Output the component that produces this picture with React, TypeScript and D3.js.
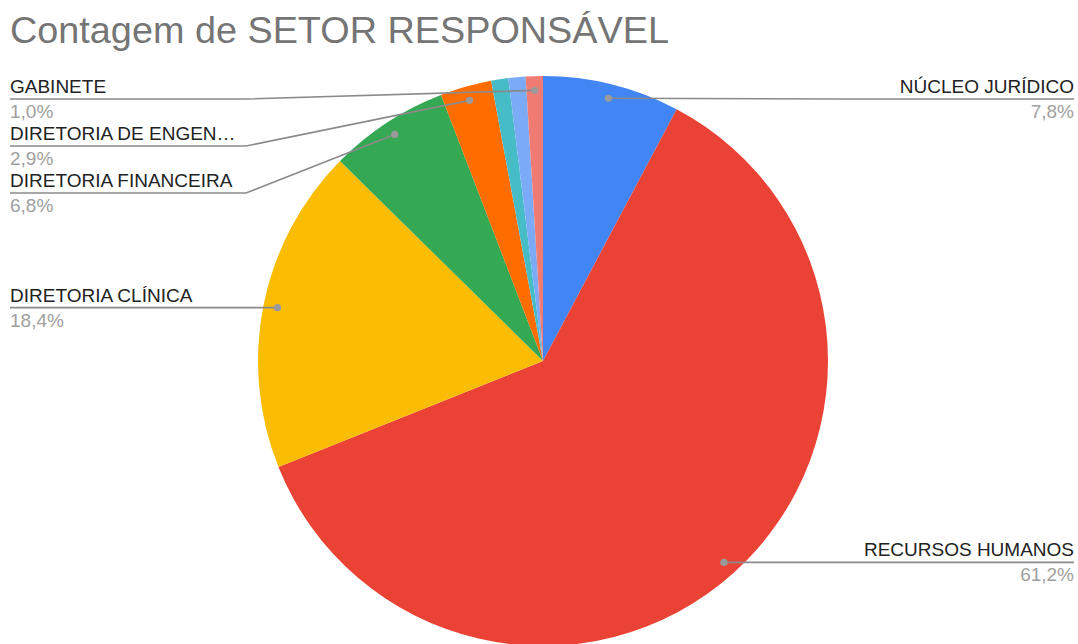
import React from 'react';
import * as d3 from 'd3';

const W = 1078;
const H = 644;

const title = 'Contagem de SETOR RESPONSÁVEL';

// clockwise from 12 o'clock
const sectors = [
  'NÚCLEO JURÍDICO',
  'RECURSOS HUMANOS',
  'DIRETORIA CLÍNICA',
  'DIRETORIA FINANCEIRA',
  'DIRETORIA DE ENGENHARIA',
  'OUTRO SETOR A',
  'OUTRO SETOR B',
  'GABINETE',
];
const counts = [8, 63, 19, 7, 3, 1, 1, 1];
const showLabel = [true, true, true, true, true, false, false, true];
const colors = ['#4285F4', '#EA4335', '#FBBC04', '#34A853', '#FF6D01', '#46BDC6', '#7BAAF7', '#F07B72'];

const FONT = "Arial, 'Liberation Sans', sans-serif";

// long names get cut like the sheets chart does
const truncate = (s: string) => (s.length > 21 ? s.slice(0, 18) + '…' : s);

export default function App() {
  const cx = 543;
  const cy = 361;
  const R = 285;
  const dotR = R * 0.95;
  const leftX = 10;
  const rightX = 1074;
  const elbow = 236;
  const topBound = 99;
  const gap = 47;

  const total = d3.sum(counts);
  const pie = d3.pie<number>().sort(null).value(d => d);
  const arcs = pie(counts);
  const arc = d3.arc<d3.PieArcDatum<number>>().innerRadius(0).outerRadius(R);
  const fmt = (v: number) => d3.format('.1f')((v / total) * 100).replace('.', ',') + '%';

  // label anchors
  const items = arcs
    .map((a, i) => {
      const mid = (a.startAngle + a.endAngle) / 2;
      return {
        i,
        mid,
        dx: cx + Math.sin(mid) * dotR,
        dy: cy - Math.cos(mid) * dotR,
        right: mid < Math.PI,
        y: 0,
      };
    })
    .filter(d => showLabel[d.i]);

  // simple stacking to avoid overlapping labels
  [true, false].forEach(side => {
    const list = items.filter(d => d.right === side).sort((a, b) => a.dy - b.dy);
    let prev = -Infinity;
    list.forEach(d => {
      d.y = Math.max(d.dy, topBound, prev + gap);
      prev = d.y;
    });
  });

  return (
    <svg width={W} height={H} style={{ position: 'absolute', left: 0, top: 0, background: '#fff' }} fontFamily={FONT}>
      <rect width={W} height={H} fill="#fff" />
      <text x={10} y={43} fontSize={37.8} fill="#757575">{title}</text>

      <g transform={`translate(${cx},${cy})`}>
        {arcs.map((a, i) => (
          <path key={i} d={arc(a) || ''} fill={colors[i]} />
        ))}
      </g>

      {items.map(d => {
        const ex = d.right ? rightX - elbow : leftX + elbow;
        const tx = d.right ? rightX : leftX;
        const anchor = d.right ? 'end' : 'start';
        const pts: [number, number][] = [[tx, d.y]];
        if (d.right ? d.dx < ex : d.dx > ex) pts.push([ex, d.y]);
        pts.push([d.dx, d.dy]);
        return (
          <g key={d.i}>
            <path d={d3.line()(pts) || ''} fill="none" stroke="#8a8a8a" strokeWidth={1.6} />
            <circle cx={d.dx} cy={d.dy} r={3.6} fill="#9a9a9a" />
            <text x={tx} y={d.y - 6} fontSize={19} fill="#222" textAnchor={anchor}>
              {truncate(sectors[d.i])}
            </text>
            <text x={tx} y={d.y + 19} fontSize={19} fill="#a0a0a0" textAnchor={anchor}>
              {fmt(counts[d.i])}
            </text>
          </g>
        );
      })}
    </svg>
  );
}
